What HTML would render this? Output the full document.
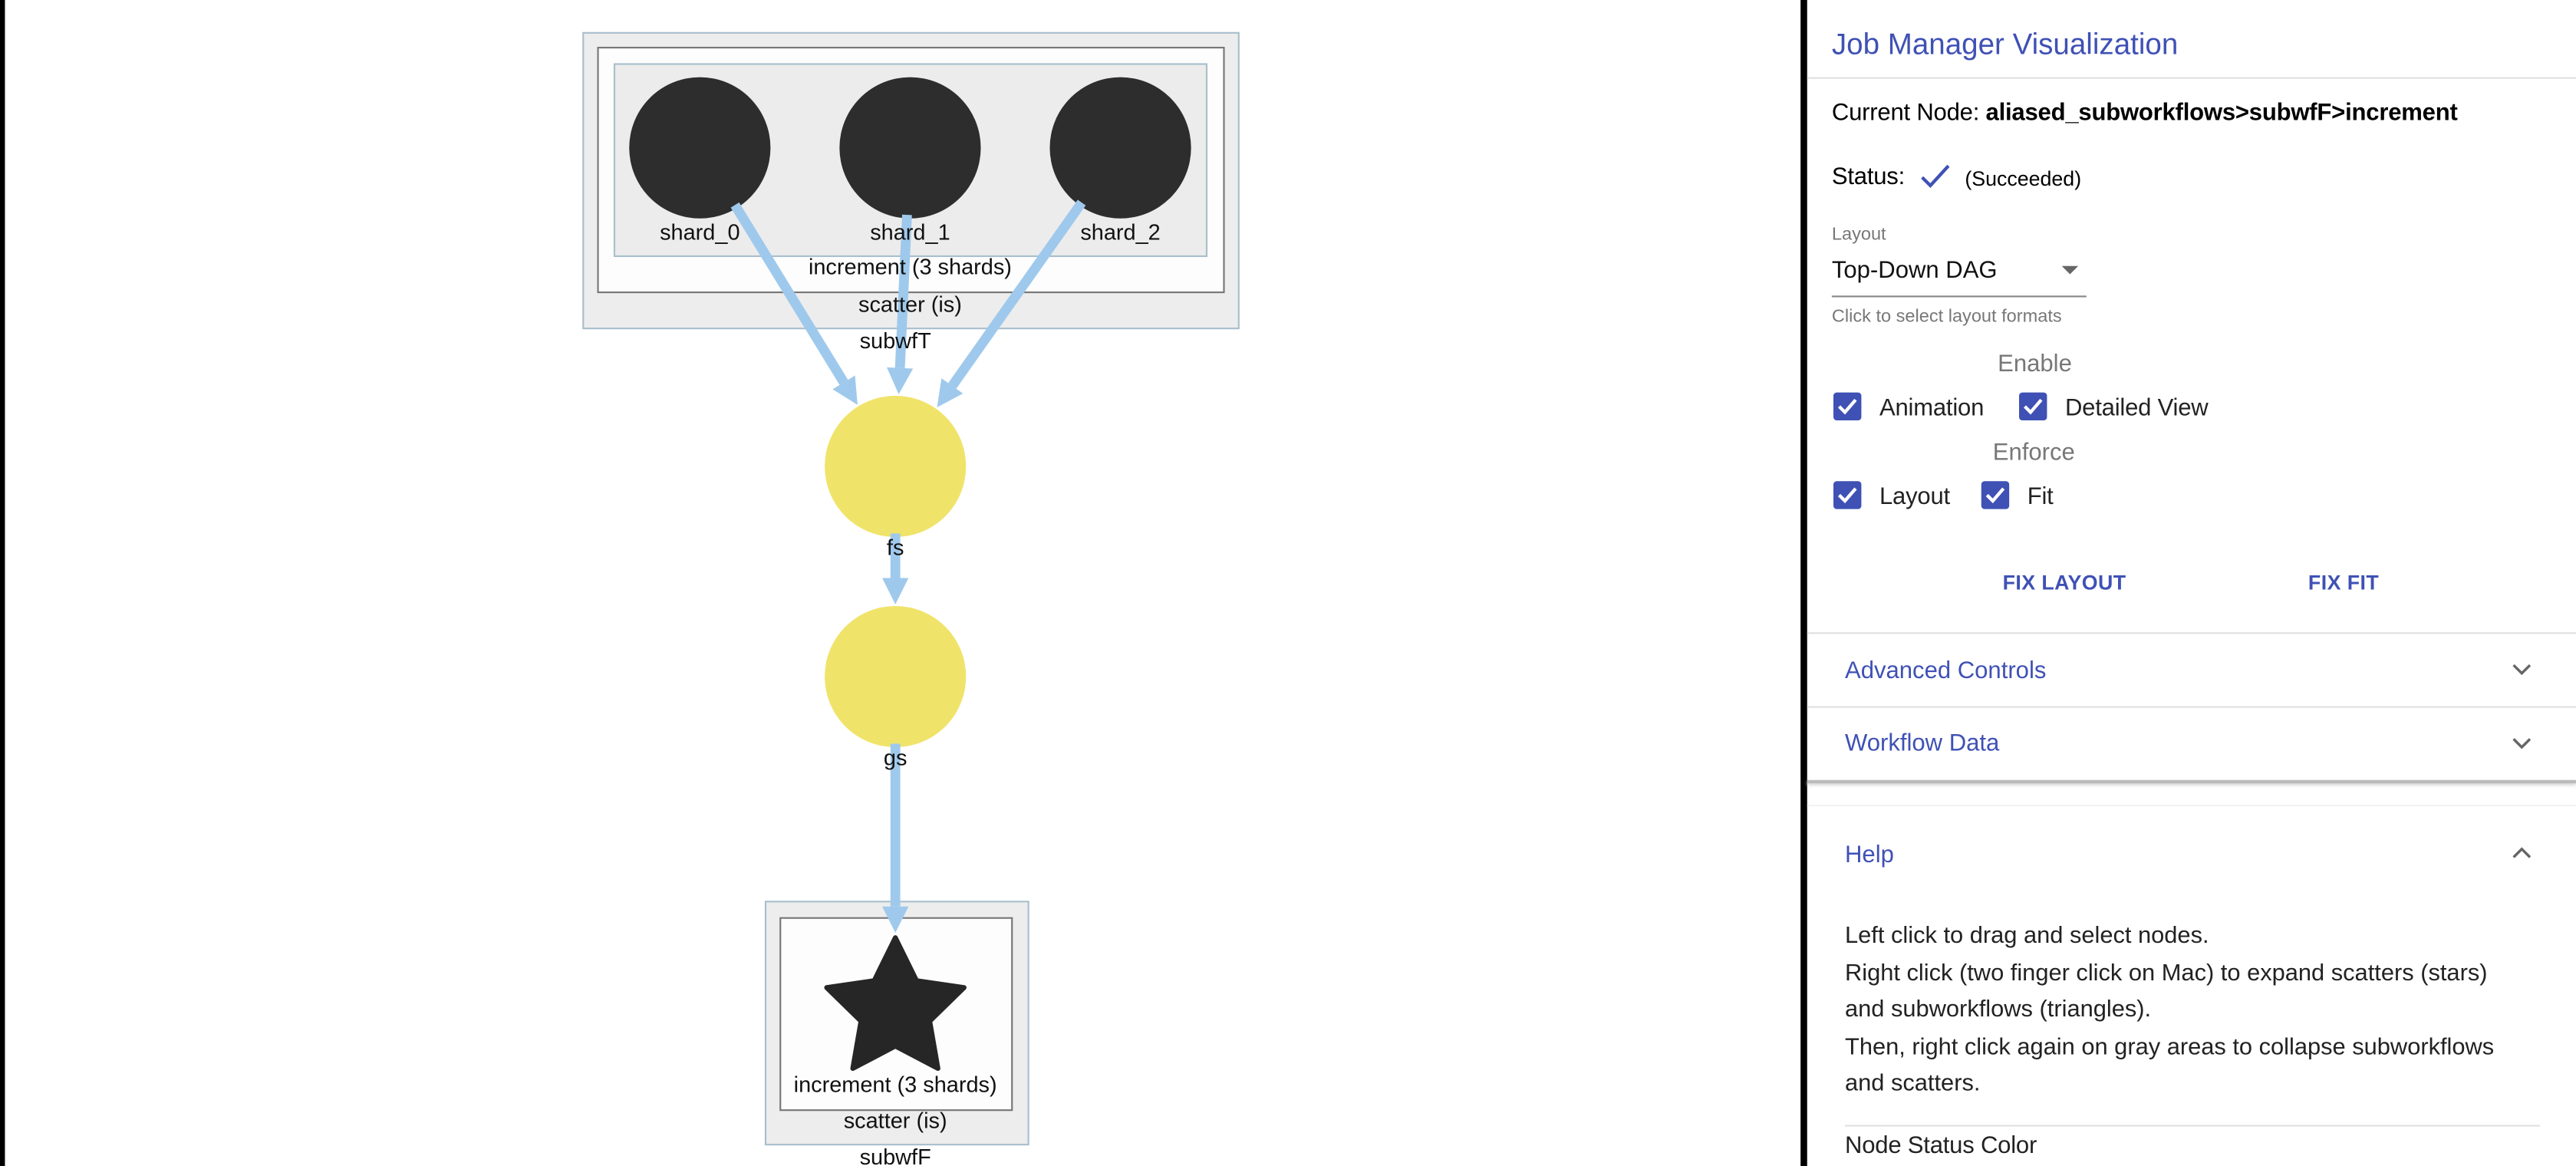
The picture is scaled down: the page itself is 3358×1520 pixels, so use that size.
<!DOCTYPE html>
<html><head><meta charset="utf-8"><style>
html,body{margin:0;padding:0;background:#fff;overflow:hidden;width:3358px;height:1520px}
#root{position:absolute;left:0;top:0;width:1568px;height:710px;transform:scale(2.14158,2.1408);transform-origin:0 0;font-family:"Liberation Sans",sans-serif;}
.a{position:absolute;white-space:nowrap}
.blue{color:#3f51b5}
.cb{position:absolute;width:17px;height:17px;background:#3f51b5;border-radius:2px}
.cb svg{position:absolute;left:0;top:0}
.hr{position:absolute;height:1px;background:#e0e0e0}
.t{font-size:14px;color:#222;letter-spacing:-0.1px}
#panel{position:absolute;left:0;top:2px;width:1568px;height:710px}
</style></head><body>
<div id="root">
<div class="a" style="left:0;top:0;width:3px;height:710px;background:#000"></div>
<svg id="graph" class="a" style="left:0;top:0" width="1097" height="710"></svg>
<div class="a" style="left:1096px;top:0;width:4px;height:710px;background:#000"></div>

<div class="a blue" style="left:1115px;top:17px;font-size:18px">Job Manager Visualization</div>
<div class="hr" style="left:1100px;top:47px;width:468px"></div>
<div class="a t" style="left:1115px;top:61px;font-size:14.5px;color:#000">Current Node: <b>aliased_subworkflows&gt;subwfF&gt;increment</b></div>
<div class="a t" style="left:1115px;top:100px;font-size:14.5px;color:#000">Status:</div>
<svg class="a" style="left:1167px;top:98px" width="22" height="18"><path d="M3 10 L8 15 L19 3" stroke="#3f51b5" stroke-width="2" fill="none"/></svg>
<div class="a" style="left:1196px;top:102px;font-size:12.5px;color:#000">(Succeeded)</div>
<div class="a" style="left:1115px;top:137px;font-size:11px;color:#777">Layout</div>
<div class="a" style="left:1115px;top:157px;width:155px;height:23px;border-bottom:1px solid #888;font-size:14.5px;color:#111">Top-Down DAG<span style="position:absolute;left:140px;top:5px;width:0;height:0;border-left:5px solid transparent;border-right:5px solid transparent;border-top:5px solid #666"></span></div>
<div class="a" style="left:1115px;top:187px;font-size:11px;color:#777">Click to select layout formats</div>
<div class="a" style="left:1216px;top:214px;font-size:14.5px;color:#777">Enable</div>
<div class="cb" style="left:1116px;top:239px"><svg width="17" height="17"><path d="M3.5 8.5 L7 12 L13.5 4.5" stroke="#fff" stroke-width="2" fill="none"/></svg></div>
<div class="a t" style="left:1144px;top:241px;font-size:14.5px">Animation</div>
<div class="cb" style="left:1229px;top:239px"><svg width="17" height="17"><path d="M3.5 8.5 L7 12 L13.5 4.5" stroke="#fff" stroke-width="2" fill="none"/></svg></div>
<div class="a t" style="left:1257px;top:241px;font-size:14.5px">Detailed View</div>
<div class="a" style="left:1213px;top:268px;font-size:14.5px;color:#777">Enforce</div>
<div class="cb" style="left:1116px;top:293px"><svg width="17" height="17"><path d="M3.5 8.5 L7 12 L13.5 4.5" stroke="#fff" stroke-width="2" fill="none"/></svg></div>
<div class="a t" style="left:1144px;top:295px;font-size:14.5px">Layout</div>
<div class="cb" style="left:1206px;top:293px"><svg width="17" height="17"><path d="M3.5 8.5 L7 12 L13.5 4.5" stroke="#fff" stroke-width="2" fill="none"/></svg></div>
<div class="a t" style="left:1234px;top:295px;font-size:14.5px">Fit</div>
<div class="a blue" style="left:1219px;top:348px;font-size:12.5px;font-weight:bold;letter-spacing:0.2px">FIX LAYOUT</div>
<div class="a blue" style="left:1405px;top:348px;font-size:12.5px;font-weight:bold;letter-spacing:0.2px">FIX FIT</div>
<div class="hr" style="left:1100px;top:385px;width:468px"></div>
<div class="a blue" style="left:1123px;top:401px;font-size:14.5px">Advanced Controls</div>
<svg class="a" style="left:1529px;top:403px" width="12" height="9"><path d="M1 2 L6 7 L11 2" stroke="#666" stroke-width="1.6" fill="none"/></svg>
<div class="hr" style="left:1100px;top:430px;width:468px"></div>
<div class="a blue" style="left:1123px;top:445px;font-size:14.5px">Workflow Data</div>
<svg class="a" style="left:1529px;top:448px" width="12" height="9"><path d="M1 2 L6 7 L11 2" stroke="#666" stroke-width="1.6" fill="none"/></svg>
<div class="a" style="left:1100px;top:475px;width:468px;height:2px;background:#bbb;box-shadow:0 1px 2px #ccc"></div>
<div class="hr" style="left:1100px;top:490px;width:468px;background:#f2f2f2"></div>
<div class="a blue" style="left:1123px;top:513px;font-size:14.5px">Help</div>
<svg class="a" style="left:1529px;top:515px" width="12" height="9"><path d="M1 7 L6 2 L11 7" stroke="#666" stroke-width="1.6" fill="none"/></svg>
<div class="a t" style="left:1123px;top:559px;font-size:14.4px;line-height:22.5px;letter-spacing:0">Left click to drag and select nodes.<br>Right click (two finger click on Mac) to expand scatters (stars)<br>and subworkflows (triangles).<br>Then, right click again on gray areas to collapse subworkflows<br>and scatters.</div>
<div class="hr" style="left:1123px;top:685px;width:423px"></div>
<div class="a t" style="left:1123px;top:690px;font-size:14.5px">Node Status Color</div>
</div>
<script>
const nodeNames=["shard_0","shard_1","shard_2","fs","gs"];
const nodeX=[426,554,682,545,545];
const nodeY=[90,90,90,284,412];
const nodeColor=["#2d2d2d","#2d2d2d","#2d2d2d","#f0e36a","#f0e36a"];
const NS="http://www.w3.org/2000/svg";
const g=document.getElementById('graph');
function mk(t,a,p){const e=document.createElementNS(NS,t);for(const k in a)e.setAttribute(k,a[k]);(p||g).appendChild(e);return e;}
function txt(x,y,s,name){const e=mk('text',{x:x,y:y,'text-anchor':'middle','font-size':13.5,fill:'#111','font-family':'Liberation Sans, sans-serif'});e.textContent=s;


return e;}
function box(x1,y1,x2,y2,fill,stroke,name){const e=mk('rect',{x:x1,y:y1,width:x2-x1,height:y2-y1,fill:fill,stroke:stroke,'stroke-width':1});

}
box(355,20,754,200,'#ededed','#a9bfcc','subwfT-box');
box(364,29,745,178,'#fdfdfd','#777','scatter-is-box-top');
box(374,39,734.5,156,'#ececec','#a9bfcc','increment-shards-box');
box(466,549,626,697,'#ededed','#a9bfcc','subwfF-box');
box(475,559,616,676,'#fdfdfd','#777','scatter-is-box-bottom');
const R=43;
for(let i=0;i<nodeNames.length;i++){
 const c=mk('circle',{cx:nodeX[i],cy:nodeY[i],r:R,fill:nodeColor[i]});
 
 
}
(function(){let pts=[];const cx=545,cy=615,ro=44,ri=22;for(let k=0;k<10;k++){const r=k%2?ri:ro;const a=-Math.PI/2+k*Math.PI/5;pts.push((cx+r*Math.cos(a)).toFixed(1)+','+(cy+r*Math.sin(a)).toFixed(1));}
const s=mk('polygon',{points:pts.join(' '),fill:'#262626',stroke:'#262626','stroke-width':3,'stroke-linejoin':'round'});

})();
const edgeFrom=[0,1,2,3,4];
const edgeTo=[3,3,3,4,-1];
function edge(x1,y1,x2,y2,name){
 const dx=x2-x1,dy=y2-y1,L=Math.hypot(dx,dy),ux=dx/L,uy=dy/L;
 const hx=x2-ux*16,hy=y2-uy*16;
 const l=mk('line',{x1:x1,y1:y1,x2:hx,y2:hy,stroke:'#9fc9ec','stroke-width':6});
 
 
 const px=-uy,py=ux;
 const h=mk('polygon',{points:`${x2},${y2} ${hx+px*8},${hy+py*8} ${hx-px*8},${hy-py*8}`,fill:'#9fc9ec'});
 
 
}
for(let i=0;i<edgeFrom.length;i++){
 const a=edgeFrom[i],b=edgeTo[i];
 const tx=b<0?545:nodeX[b],ty=b<0?568:nodeY[b];
 const dx=tx-nodeX[a],dy=ty-nodeY[a],L=Math.hypot(dx,dy);
 const sx=nodeX[a]+dx/L*R*0.95,sy=nodeY[a]+dy/L*R*0.95;
 const ex=b<0?tx:tx-dx/L*(R+1),ey=b<0?ty:ty-dy/L*(R+1);
 edge(sx,sy,ex,ey,'edge-'+nodeNames[a]+'-'+(b<0?'subwfF':nodeNames[b]));
}
for(let i=0;i<nodeNames.length;i++) txt(nodeX[i],nodeY[i]+R+11+(i<3?2:0),nodeNames[i],'label-'+nodeNames[i]);
txt(554,167,'increment (3 shards)','label-increment-shards-top');
txt(554,190,'scatter (is)','label-scatter-top');
txt(545,212,'subwfT','label-subwfT');
txt(545,665,'increment (3 shards)','label-increment-shards-bottom');
txt(545,687,'scatter (is)','label-scatter-bottom');
txt(545,709,'subwfF','label-subwfF');
</script>
</body></html>
